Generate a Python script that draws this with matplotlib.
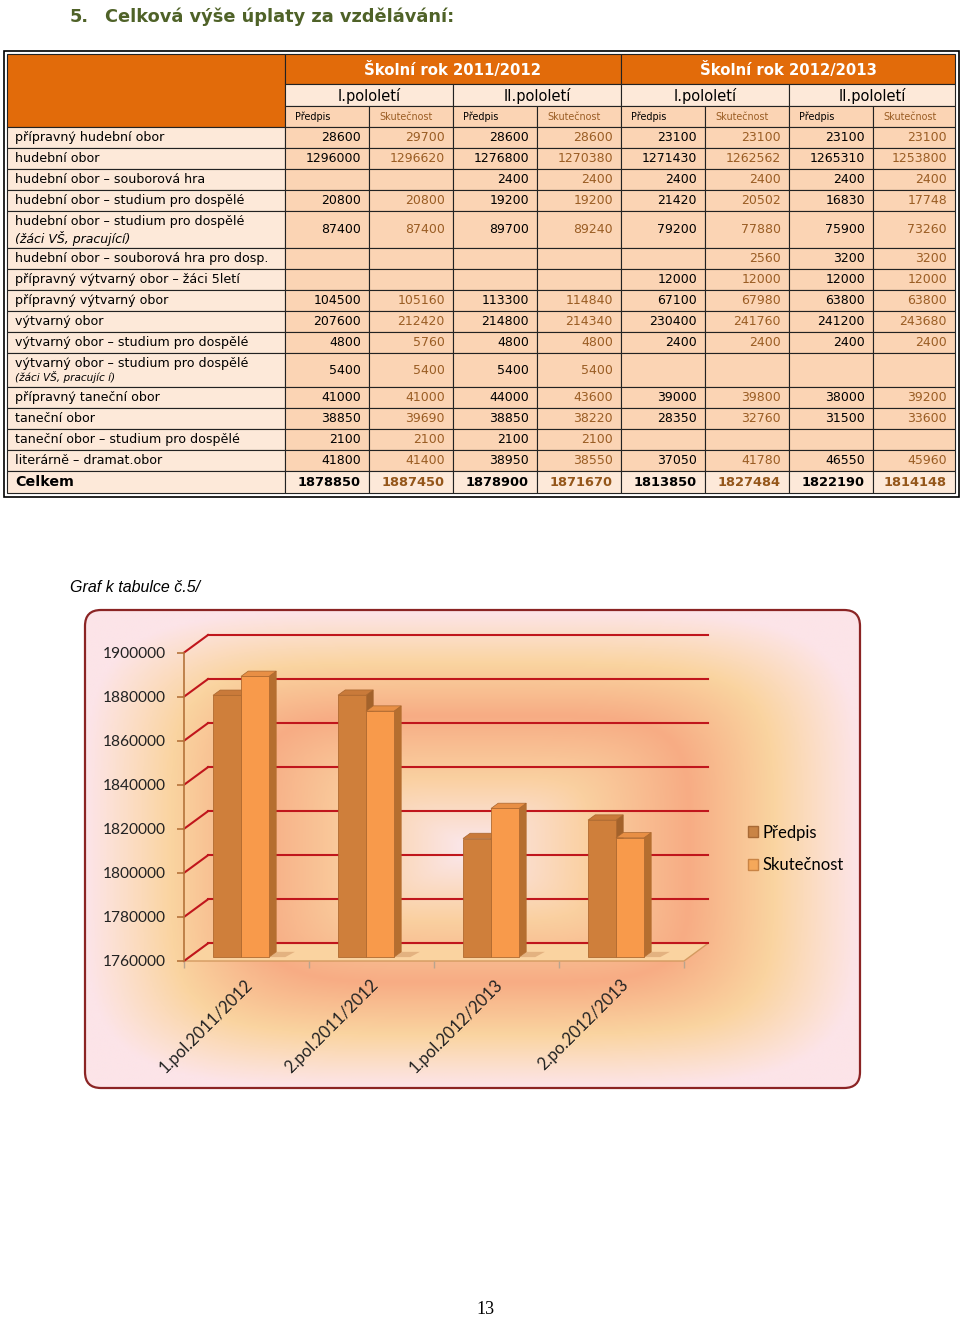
import numpy as np
import matplotlib.pyplot as plt
from matplotlib.patches import Rectangle, Polygon, FancyBboxPatch, Patch
from matplotlib.colors import LinearSegmentedColormap

plt.rcParams['font.family'] = ['DejaVu Sans']

# ---- data tabulky ----
roky = ['Školní rok 2011/2012', 'Školní rok 2012/2013']
pololeti = ['I.pololetí', 'II.pololetí', 'I.pololetí', 'II.pololetí']
sloupce = ['Předpis', 'Skutečnost'] * 4

obory = [
    'přípravný hudební obor',
    'hudební obor',
    'hudební obor – souborová hra',
    'hudební obor – studium pro dospělé',
    'hudební obor – studium pro dospělé',
    'hudební obor – souborová hra pro dosp.',
    'přípravný výtvarný obor – žáci 5letí',
    'přípravný výtvarný obor',
    'výtvarný obor',
    'výtvarný obor – studium pro dospělé',
    'výtvarný obor – studium pro dospělé',
    'přípravný taneční obor',
    'taneční obor',
    'taneční obor – studium pro dospělé',
    'literárně – dramat.obor',
]
poznamky = {4: '(žáci VŠ, pracující)', 10: '(žáci VŠ, pracujíc í)'}

hodnoty = [
    [28600, 29700, 28600, 28600, 23100, 23100, 23100, 23100],
    [1296000, 1296620, 1276800, 1270380, 1271430, 1262562, 1265310, 1253800],
    [None, None, 2400, 2400, 2400, 2400, 2400, 2400],
    [20800, 20800, 19200, 19200, 21420, 20502, 16830, 17748],
    [87400, 87400, 89700, 89240, 79200, 77880, 75900, 73260],
    [None, None, None, None, None, 2560, 3200, 3200],
    [None, None, None, None, 12000, 12000, 12000, 12000],
    [104500, 105160, 113300, 114840, 67100, 67980, 63800, 63800],
    [207600, 212420, 214800, 214340, 230400, 241760, 241200, 243680],
    [4800, 5760, 4800, 4800, 2400, 2400, 2400, 2400],
    [5400, 5400, 5400, 5400, None, None, None, None],
    [41000, 41000, 44000, 43600, 39000, 39800, 38000, 39200],
    [38850, 39690, 38850, 38220, 28350, 32760, 31500, 33600],
    [2100, 2100, 2100, 2100, None, None, None, None],
    [41800, 41400, 38950, 38550, 37050, 41780, 46550, 45960],
]
celkem = [1878850, 1887450, 1878900, 1871670, 1813850, 1827484, 1822190, 1814148]

# ---- data grafu ----
obdobi = ['1.pol.2011/2012', '2.pol.2011/2012', '1.pol.2012/2013', '2.po.2012/2013']
predpis = celkem[0::2]
skutecnost = celkem[1::2]

W, H = 960, 1318
fig = plt.figure(figsize=(W / 100, H / 100), dpi=100)
fig.patch.set_facecolor('white')

# stranka v pixelech
pg = fig.add_axes([0, 0, 1, 1])
pg.set_xlim(0, W)
pg.set_ylim(H, 0)
pg.axis('off')

zelena = '#4f6228'
oranz = '#e26b0a'
svetla = '#fde9d9'
broskev = '#fbd4b4'
hneda = '#9a5d24'
cara = '#222222'

pg.text(70, 17, '5.', fontsize=12.8, fontweight='bold', color=zelena, va='center')
pg.text(105, 17, 'Celková výše úplaty za vzdělávání:', fontsize=12.8,
        fontweight='bold', color=zelena, va='center')

# ---- tabulka ----
col_x = [7, 285, 369, 453, 537, 621, 705, 789, 873, 955]


def cell(x0, x1, y0, y1, fc):
    pg.add_patch(Rectangle((x0, y0), x1 - x0, y1 - y0, facecolor=fc,
                           edgecolor=cara, lw=0.8))


# dvojity ramecek
pg.add_patch(Rectangle((3.5, 50.5), 955, 446, facecolor='none', edgecolor='black', lw=1.2))

cell(7, 285, 54, 127, oranz)
for k, rok in enumerate(roky):
    a, b = col_x[1 + 4 * k], col_x[5 + 4 * k]
    cell(a, b, 54, 84, oranz)
    pg.text((a + b) / 2, 70, rok, ha='center', va='center', color='white',
            fontsize=10.7, fontweight='bold')
for k, p in enumerate(pololeti):
    a, b = col_x[1 + 2 * k], col_x[3 + 2 * k]
    cell(a, b, 84, 106, svetla)
    pg.text((a + b) / 2, 95.5, p, ha='center', va='center', fontsize=10.5)
for j, s in enumerate(sloupce):
    a, b = col_x[1 + j], col_x[2 + j]
    cell(a, b, 106, 127, broskev)
    pg.text(a + 10, 117, s, ha='left', va='center', fontsize=6.9,
            color='black' if j % 2 == 0 else hneda)

vysky = [21] * len(obory)
vysky[4] = 37
vysky[10] = 34

y = 127
for r, (obor, vals) in enumerate(zip(obory, hodnoty)):
    h = vysky[r]
    cell(col_x[0], col_x[1], y, y + h, svetla)
    if r in poznamky:
        pg.text(15, y + 10, obor, ha='left', va='center', fontsize=9.1)
        pg.text(15, y + h - 10, poznamky[r], ha='left', va='center',
                fontsize=9 if r == 4 else 7.6, style='italic')
    else:
        pg.text(15, y + h / 2, obor, ha='left', va='center', fontsize=9.1)
    for j, v in enumerate(vals):
        a, b = col_x[1 + j], col_x[2 + j]
        cell(a, b, y, y + h, broskev)
        if v is not None:
            pg.text(b - 8, y + h / 2, str(v), ha='right', va='center', fontsize=9,
                    color='black' if j % 2 == 0 else hneda)
    y += h

cell(col_x[0], col_x[1], y, y + 22, svetla)
pg.text(15, y + 11, 'Celkem', ha='left', va='center', fontsize=10.3, fontweight='bold')
for j, v in enumerate(celkem):
    a, b = col_x[1 + j], col_x[2 + j]
    cell(a, b, y, y + 22, svetla)
    pg.text(b - 8, y + 11, str(v), ha='right', va='center', fontsize=9.4,
            fontweight='bold', color='black' if j % 2 == 0 else '#94561a')

# ---- graf ----
pg.text(70, 588, 'Graf k tabulce č.5/', family='Liberation Sans', style='italic',
        fontsize=11.5, va='center')

# pozadi s prechodem
gx = np.linspace(-1, 1, 400)
gy = np.linspace(-1, 1, 260)
GX, GY = np.meshgrid(gx, gy)
U = (np.abs(GX) ** 5 + np.abs(GY) ** 5) ** 0.2
stops = [(0.0, '#fbe8ef'), (0.3, '#fad0a0'), (0.56, '#f7ac84'),
         (0.78, '#fad4a0'), (0.93, '#fce0d2'), (1.0, '#fce4e8')]
cmap = LinearSegmentedColormap.from_list('pozadi', stops)
ramec = FancyBboxPatch((85, 610), 775, 478, boxstyle='round,pad=0,rounding_size=16',
                       transform=pg.transData, facecolor='none')
im = pg.imshow(U, cmap=cmap, vmin=0, vmax=1, extent=(85, 860, 1088, 610),
               aspect='auto', interpolation='bilinear')
im.set_clip_path(ramec)
pg.add_patch(FancyBboxPatch((85, 610), 775, 478, boxstyle='round,pad=0,rounding_size=16',
                            facecolor='none', edgecolor='#8b2424', lw=1.6))
pg.set_xlim(0, W)
pg.set_ylim(H, 0)

pg.text(485, 1309, '13', family='Liberation Serif', fontsize=13, ha='center', va='center')

y0, y1 = 1760000, 1900000
DX = 24 / 125
DY = 8000
ax = fig.add_axes([184 / W, 1 - 961 / H, 524 / W, 326 / H])
ax.set_xlim(-0.5, 3.5 + DX)
ax.set_ylim(y0, y1 + DY)
ax.patch.set_alpha(0)
for s in ['top', 'right', 'bottom']:
    ax.spines[s].set_visible(False)
ax.spines['left'].set_bounds(y0, y1)
ax.spines['left'].set_color('#b5733a')
ax.spines['left'].set_linewidth(1.2)

ticks = list(range(y0, y1 + 1, 20000))
ax.set_yticks(ticks)
ax.set_yticklabels([str(t) for t in ticks], family='Lato', fontsize=11.2, color='#222222')
ax.tick_params(axis='y', length=5, width=1.2, color='#b5733a', pad=8)
ax.set_xticks([-0.5, 0.5, 1.5, 2.5, 3.5])
ax.set_xticklabels([])
ax.tick_params(axis='x', length=5, width=1, color='#b9a48e')

# podlaha
ax.add_patch(Polygon([(-0.5, y0), (3.5, y0), (3.5 + DX, y0 + DY), (-0.5 + DX, y0 + DY)],
                     closed=True, facecolor='#fad3a0', edgecolor='#d49a60', lw=1, zorder=1,
                     clip_on=False))
# mrizka na zadni a bocni stene
for t in ticks:
    ax.plot([-0.5 + DX, 3.5 + DX], [t + DY, t + DY], color='#c0161c', lw=1.5, zorder=1.5,
            clip_on=False)
    ax.plot([-0.5, -0.5 + DX], [t, t + DY], color='#c0161c', lw=1.5, zorder=1.5,
            clip_on=False)

# 3D sloupce
w = 0.224
offs = [-0.268, -0.044]
d0 = 0.22
bd = 0.3
barvy = [('#cf7f3b', '#a3622b', '#c97a3a'), ('#f89a4b', '#b56e2f', '#e88f45')]
for i in range(len(obdobi)):
    # stin na podlaze
    xs = i + offs[1] + w
    yb = y0 + d0 * DY
    ax.add_patch(Polygon([(xs, yb), (xs + 0.13, yb), (xs + bd * DX + 0.15, yb + bd * DY),
                          (xs + bd * DX, yb + bd * DY)], closed=True,
                         facecolor='#c98a5a', alpha=0.45, lw=0, zorder=2))
    for s, vals in enumerate([predpis, skutecnost]):
        front, side, top = barvy[s]
        xl = i + offs[s]
        xr = xl + w
        yt = vals[i] + d0 * DY
        z = 3 + s
        ax.add_patch(Polygon([(xr, yb), (xr + bd * DX, yb + bd * DY),
                              (xr + bd * DX, yt + bd * DY), (xr, yt)],
                             closed=True, facecolor=side, edgecolor=side, lw=0.5, zorder=z))
        ax.add_patch(Polygon([(xl, yt), (xr, yt), (xr + bd * DX, yt + bd * DY),
                              (xl + bd * DX, yt + bd * DY)],
                             closed=True, facecolor=top, edgecolor='#a8652d', lw=0.5, zorder=z))
        ax.bar(xl, yt - yb, width=w, bottom=yb, align='edge', color=front,
               edgecolor='#b06a30', lw=0.6, zorder=z)

for i, lab in enumerate(obdobi):
    ax.annotate(lab, xy=(i, y0), xytext=(4, -21), textcoords='offset pixels',
                rotation=45, rotation_mode='anchor', ha='right', va='center',
                family='Lato', fontsize=12, color='#222222', annotation_clip=False)

handles = [Patch(facecolor='#c98445', edgecolor='#a86a35'),
           Patch(facecolor='#f5a85a', edgecolor='#c98445')]
fig.legend(handles, ['Předpis', 'Skutečnost'], loc='center left',
           bbox_to_anchor=(740 / W, 1 - 849 / H), frameon=False,
           prop={'family': 'Lato', 'size': 12}, handlelength=0.6, handleheight=0.6,
           handletextpad=0.25, labelspacing=1.0, borderpad=0)

fig.savefig('out.png', dpi=100)
